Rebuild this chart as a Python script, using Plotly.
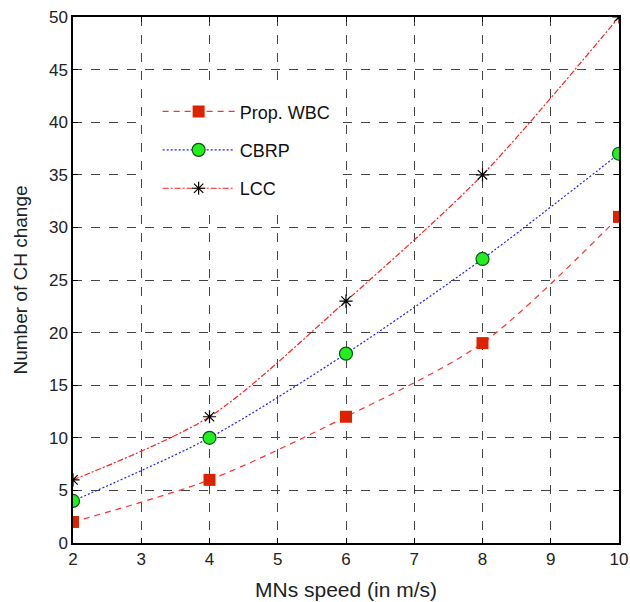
import plotly.graph_objects as go

speed = [2, 4, 6, 8, 10]
wbc = [2, 6, 12, 19, 31]
cbrp = [4, 10, 18, 27, 37]
lcc = [6, 12, 23, 35, 50]
x_ticks = [2, 3, 4, 5, 6, 7, 8, 9, 10]
y_ticks = [0, 5, 10, 15, 20, 25, 30, 35, 40, 45, 50]

FONT = "Liberation Sans, Arial, Helvetica"

fig = go.Figure()
fig.add_trace(go.Scatter(
    x=speed, y=wbc, name="Prop. WBC", legendgroup="a",
    mode="lines+markers", line=dict(color="#ff3030", dash="6px,5px", width=1.2, shape="spline", smoothing=0.8),
    marker=dict(symbol="square", size=12, color="#dd2200", line=dict(width=0))))
fig.add_trace(go.Scatter(
    x=speed, y=cbrp, name="CBRP", legendgroup="b",
    mode="lines+markers", line=dict(color="#2020ff", dash="2px,2px", width=1.2, shape="spline", smoothing=0.8),
    marker=dict(symbol="circle", size=13, color="#22ee22", line=dict(width=1.2, color="#115511"))))
fig.add_trace(go.Scatter(
    x=speed, y=lcc, name="LCC", legendgroup="c",
    mode="lines+markers", line=dict(color="#ff2020", dash="6px,2px,2px,2px", width=1.2, shape="spline", smoothing=0.8),
    marker=dict(symbol="asterisk-open", size=11, color="black", line=dict(width=1.2, color="black"))))

axis_common = dict(
    showline=True, linecolor="black", linewidth=1.5, mirror="ticks",
    ticks="inside", ticklen=5, tickcolor="black", tickwidth=1,
    showgrid=True, gridcolor="#444444", griddash="dash", gridwidth=1,
    zeroline=False, automargin=False, ticklabeloverflow="allow",
    tickfont=dict(family=FONT, size=17, color="#222222"),
)
fig.update_xaxes(range=[2, 10], tickvals=x_ticks, title_text="MNs speed (in m/s)", title_standoff=14,
                 title_font=dict(family=FONT, size=21, color="#222222"), **axis_common)
fig.update_yaxes(range=[0, 50], tickvals=y_ticks, title_text="Number of CH change", title_standoff=16,
                 title_font=dict(family=FONT, size=19, color="#222222"), **axis_common)

# white backdrop behind the legend (covers the grid, as in the original)
fig.add_shape(type="rect", xref="paper", yref="paper",
              x0=(143 - 73) / 546, x1=(343 - 73) / 546,
              y0=(543 - 210) / 526, y1=(543 - 85) / 526,
              fillcolor="white", line=dict(width=0), layer="above")

fig.update_layout(
    width=630, height=602,
    margin=dict(l=73, r=11, t=17, b=59),
    plot_bgcolor="white", paper_bgcolor="white",
    showlegend=True,
    legend=dict(x=0.155, y=0.855, xanchor="left", yanchor="top",
                bgcolor="rgba(0,0,0,0)", borderwidth=0,
                font=dict(family=FONT, size=18, color="#111111"),
                itemwidth=72, tracegroupgap=12, traceorder="grouped"),
)

fig.write_html("out.html", config={"displayModeBar": False},
               post_script="document.body.style.margin='0';document.body.style.overflow='hidden';")
